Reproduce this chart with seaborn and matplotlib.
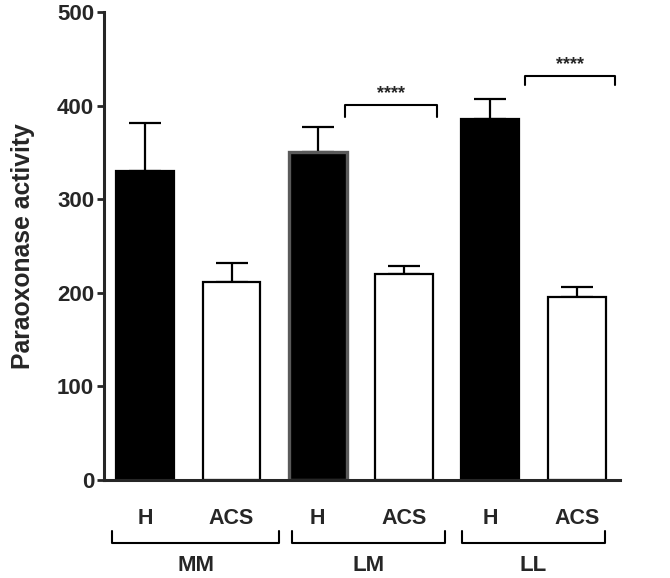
import numpy as np
import pandas as pd
import matplotlib
matplotlib.use("Agg")
import matplotlib.pyplot as plt
import matplotlib.transforms as mtransforms
import seaborn as sns

# ------------------------------------------
# Data
# ------------------------------------------
groups = ["MM", "LM", "LL"]
conditions = ["H", "ACS"]
bar_labels = ["MM H", "MM ACS", "LM H", "LM ACS", "LL H", "LL ACS"]
means = [330, 212, 350, 220, 386, 196]
sem = [52, 20, 27, 9, 21, 10]

# significance: (left x, right x, bracket top, leg bottom, label)
sig_pairs = [
    (2.32, 3.38, 401, 388, "****"),
    (4.40, 5.44, 432, 422, "****"),
]

# group bracket extents (data x)
group_spans = [(-0.38, 1.55), (1.70, 3.48), (3.67, 5.33)]

df = pd.DataFrame({"bar": bar_labels, "value": means})

# ------------------------------------------
# Style
# ------------------------------------------
sns.set_style("ticks")
plt.rcParams["font.family"] = ["Liberation Sans", "DejaVu Sans"]
plt.rcParams["font.weight"] = "bold"

fig = plt.figure(figsize=(6.7, 5.78), dpi=100)
ax = fig.add_axes([0.155, 0.1696, 0.77, 0.8094])

palette = ["black", "white"] * 3

sns.barplot(
    data=df,
    x="bar",
    y="value",
    hue="bar",
    palette=palette,
    edgecolor="black",
    linewidth=1.6,
    width=0.67,
    legend=False,
    ax=ax,
)

for p in ax.patches:
    p.set_zorder(2)

# gray outline on the LM H bar
ax.patches[2].set_edgecolor("#5a5a5a")
ax.patches[2].set_linewidth(2.4)

# upper error bars only (drawn behind the bars)
xpos = np.arange(len(means))
ax.errorbar(
    xpos,
    means,
    yerr=[np.zeros(len(sem)), sem],
    fmt="none",
    ecolor="black",
    elinewidth=1.6,
    capsize=11.5,
    capthick=1.6,
    zorder=1,
)

ax.set_xlim(-0.48, 5.5)
ax.set_ylim(0, 500)
ax.set_yticks([0, 100, 200, 300, 400, 500])
ax.set_xticks(xpos)
ax.set_xticklabels(conditions * 3, fontsize=15.5, fontweight="bold")
ax.tick_params(axis="x", length=0, pad=20)
ax.tick_params(axis="y", length=5, width=2, labelsize=16, pad=2)
for lab in ax.get_yticklabels():
    lab.set_fontweight("bold")

ax.set_xlabel("")
ax.set_ylabel("Paraoxonase activity", fontsize=17.8, fontweight="bold", labelpad=16)

sns.despine(ax=ax)
ax.spines["left"].set_linewidth(2.2)
ax.spines["bottom"].set_linewidth(2.2)

# ------------------------------------------
# Significance brackets
# ------------------------------------------
for x0, x1, top, leg, txt in sig_pairs:
    ax.plot([x0, x0, x1, x1], [leg, top, top, leg], color="black", lw=1.5,
            clip_on=False)
    ax.text((x0 + x1) / 2, top + 3, txt, ha="center", va="bottom",
            fontsize=13, fontweight="bold")

# ------------------------------------------
# Group brackets under the axis
# ------------------------------------------
trans = mtransforms.blended_transform_factory(ax.transData, ax.transAxes)
for (x0, x1), name in zip(group_spans, groups):
    ax.plot([x0, x0, x1, x1], [-0.110, -0.135, -0.135, -0.110],
            color="black", lw=1.5, transform=trans, clip_on=False)
    ax.text((x0 + x1) / 2, -0.160, name, ha="center", va="top",
            fontsize=16, fontweight="bold", transform=trans)

fig.savefig("out.png", dpi=100)
